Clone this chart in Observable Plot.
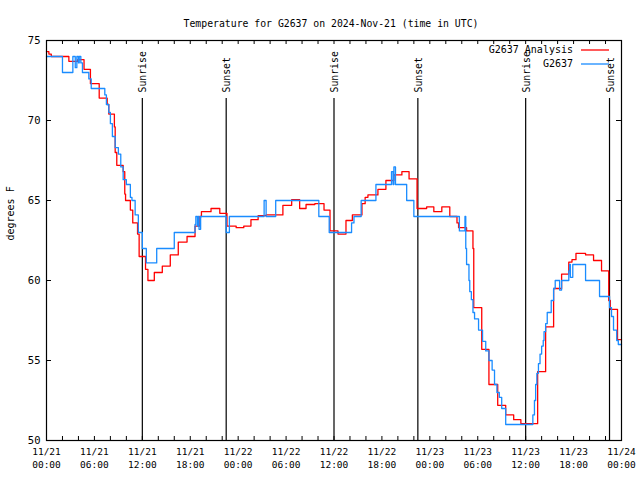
<!DOCTYPE html>
<html>
<head>
<meta charset="utf-8">
<script src="https://cdn.jsdelivr.net/npm/d3@7"></script>
<script src="https://cdn.jsdelivr.net/npm/@observablehq/plot@0.6"></script>
<style>
  html, body { margin: 0; padding: 0; background: white; }
</style>
</head>
<body>
<div id="chart"></div>
<script>
// ---- data (hours since 2024-11-21 00:00 UTC, temperature °F) ----
const analysisHours = [0, 0.3, 0.6, 2.8, 3.9, 4.7, 5.5, 6.6, 7.6, 7.8, 8.5, 8.6, 8.8, 9.6, 9.8, 9.9, 10.5, 10.8, 11.4, 11.6, 12.4, 12.7, 13.5, 14.5, 15.5, 16.5, 17.6, 18.6, 19.2, 19.4, 20.6, 21.7, 22.6, 23.75, 24.7, 25.6, 26.5, 27.5, 29.6, 30.7, 31.7, 32.5, 33.6, 34.75, 35.5, 36.5, 37.5, 38.3, 39.5, 39.9, 40.25, 41.5, 42.5, 43.5, 44.5, 45.4, 46.4, 47.6, 48.5, 49.5, 50.5, 51.4, 51.6, 52.6, 53.4, 53.5, 54.5, 55.4, 56.5, 57.5, 58.5, 59.4, 61.5, 62.5, 63.5, 64.5, 65.4, 65.8, 66.3, 67.5, 68.5, 69.5, 70.4, 70.6, 71.5, 72];
const analysisTemps = [74.3, 74.15, 74.0, 73.7, 73.8, 73.2, 72.3, 71.4, 71.0, 70.4, 69.6, 68.0, 67.2, 66.8, 65.4, 65.0, 64.4, 63.6, 62.9, 61.5, 60.7, 60.0, 60.5, 60.9, 61.6, 62.4, 62.75, 63.4, 64.0, 64.3, 64.5, 64.2, 63.4, 63.3, 63.4, 63.8, 64.05, 64.1, 64.7, 65.05, 64.5, 64.75, 64.8, 64.4, 63.1, 62.9, 63.75, 64.1, 64.8, 65.2, 65.35, 65.7, 66.25, 66.6, 66.8, 66.35, 64.5, 64.6, 64.3, 64.6, 64.0, 63.6, 63.3, 63.1, 62.0, 58.3, 55.7, 53.5, 52.2, 51.6, 51.3, 51.05, 54.3, 57.1, 59.5, 60.4, 61.15, 61.3, 61.7, 61.6, 61.25, 60.6, 58.75, 58.2, 56.3, 56.3];

const stationHours = [0, 2, 3.3, 3.6, 3.8, 4.0, 4.1, 4.3, 4.5, 5.3, 5.6, 7.3, 7.5, 7.8, 8.0, 8.25, 8.6, 9.0, 9.3, 9.6, 10.0, 10.5, 10.7, 11.1, 11.5, 12.0, 12.5, 13.8, 16.0, 18.6, 18.7, 18.9, 19.0, 19.1, 19.3, 22.5, 22.9, 27.25, 27.5, 28.7, 34.1, 35.4, 38.2, 38.5, 39.4, 41.25, 43.2, 43.4, 43.5, 43.7, 45.1, 46.0, 51.7, 52.3, 52.4, 52.5, 52.6, 52.9, 53.0, 53.2, 53.4, 53.6, 54.1, 54.6, 55.0, 55.4, 55.8, 56.1, 56.4, 56.7, 57.0, 57.5, 60.9, 61.1, 61.25, 61.4, 61.6, 61.8, 62.0, 62.2, 62.3, 62.5, 62.7, 63.2, 63.5, 63.7, 64.25, 64.5, 65.4, 65.5, 65.6, 65.9, 67.5, 69.25, 70.5, 70.75, 71.0, 71.4, 71.6, 72];
const stationTemps = [74.0, 73.0, 74.0, 73.3, 74.0, 73.6, 74.0, 73.6, 73.0, 72.6, 72.0, 71.6, 71.0, 70.5, 69.8, 69.0, 68.3, 67.9, 67.1, 66.3, 66.0, 65.2, 65.0, 64.1, 63.0, 62.0, 61.1, 62.0, 63.0, 63.5, 64.0, 63.4, 64.0, 63.2, 64.0, 63.0, 64.0, 65.0, 64.0, 65.0, 64.0, 63.0, 63.6, 64.0, 65.0, 66.0, 66.8, 66.0, 67.1, 66.0, 65.0, 64.0, 63.1, 63.1, 64.0, 62.0, 61.0, 60.0, 59.3, 58.8, 58.0, 57.6, 56.9, 56.2, 55.6, 55.0, 54.4, 53.5, 53.0, 52.7, 52.0, 51.0, 51.6, 52.5, 53.5, 54.2, 54.8, 55.4, 55.9, 56.25, 56.8, 57.3, 58.0, 58.75, 59.5, 60.0, 59.4, 60.0, 60.6, 61.0, 60.2, 61.0, 60.0, 59.0, 58.3, 57.75, 56.9, 56.25, 56.0, 56.0];

const eventHours = [12, 22.5, 36, 46.5, 60, 70.5];
const eventLabels = ["Sunrise", "Sunset", "Sunrise", "Sunset", "Sunrise", "Sunset"];

const xTickHours = [0, 6, 12, 18, 24, 30, 36, 42, 48, 54, 60, 66, 72];
const xTickDates = ["11/21", "11/21", "11/21", "11/21", "11/22", "11/22", "11/22", "11/22", "11/23", "11/23", "11/23", "11/23", "11/24"];
const xTickTimes = ["00:00", "06:00", "12:00", "18:00", "00:00", "06:00", "12:00", "18:00", "00:00", "06:00", "12:00", "18:00", "00:00"];
const yTicks = [50, 55, 60, 65, 70, 75];

const seriesNames = ["G2637 Analysis", "G2637"];
const seriesColors = ["#ff0000", "#1a8cff"];
const titleText = "Temperature for G2637 on 2024-Nov-21 (time in UTC)";
const yLabel = "degrees F";

// ---- helpers ----
const t0 = Date.UTC(2024, 10, 21, 0, 0, 0);
const toDate = h => new Date(t0 + h * 3600e3);
const analysis = analysisHours.map((h, i) => ({t: toDate(h), v: analysisTemps[i]}));
const station = stationHours.map((h, i) => ({t: toDate(h), v: stationTemps[i]}));
const events = eventHours.map((h, i) => ({t: toDate(h), label: eventLabels[i]}));
const xTicks = xTickHours.map((h, i) => ({t: toDate(h), d: xTickDates[i], tm: xTickTimes[i]}));
const minorTicks = d3.range(0, 73, 2).map(toDate);

const W = 640, H = 480;
const mL = 46, mR = 19, mT = 40, mB = 40;
const pw = W - mL - mR, ph = H - mT - mB;
const font = "'DejaVu Sans Mono', 'Liberation Mono', monospace";

const plot = Plot.plot({
  width: W, height: H,
  marginLeft: mL, marginRight: mR, marginTop: mT, marginBottom: mB,
  x: {type: "utc", domain: [toDate(0), toDate(72)], axis: null},
  y: {domain: [50, 75], axis: null},
  style: {fontFamily: font, fontSize: "10px", color: "black", background: "white"},
  marks: [
    // sunrise / sunset rules and labels
    Plot.ruleX(events, {x: "t", stroke: "black", strokeWidth: 1.2, insetTop: 58}),
    Plot.text(events, {x: "t", text: "label", frameAnchor: "top", dy: 52, dx: 1, rotate: -90, textAnchor: "start", lineAnchor: "middle", fill: "black", fontSize: 9.8}),
    // data lines
    Plot.line(analysis, {x: "t", y: "v", curve: "step-after", stroke: seriesColors[0], strokeWidth: 1.3}),
    Plot.line(station, {x: "t", y: "v", curve: "step-after", stroke: seriesColors[1], strokeWidth: 1.3}),
    // inward ticks
    Plot.ruleX(minorTicks, {stroke: "black", insetTop: ph - 4}),
    Plot.ruleX(minorTicks, {stroke: "black", insetBottom: ph - 4}),
    Plot.ruleY(yTicks, {stroke: "black", insetRight: pw - 5}),
    Plot.ruleY(yTicks, {stroke: "black", insetLeft: pw - 5}),
    Plot.frame({stroke: "black", strokeWidth: 1.2}),
    // tick labels
    Plot.text(yTicks, {y: d => d, text: d => String(d), frameAnchor: "left", dx: -6, textAnchor: "end", fontSize: 10.5}),
    Plot.text(xTicks, {x: "t", text: "d", frameAnchor: "bottom", dy: 14, fontSize: 9.5}),
    Plot.text(xTicks, {x: "t", text: "tm", frameAnchor: "bottom", dy: 27, fontSize: 9.5}),
    // title and y label
    Plot.text([titleText], {text: d => d, frameAnchor: "top", dy: -20, dx: -3, fontSize: 9.8}),
    Plot.text([yLabel], {text: d => d, frameAnchor: "left", dx: -36, rotate: -90, fontSize: 10})
  ]
});

// legend (top-right, inside the frame)
const svg = d3.select(plot);
const legendRows = seriesNames.map((n, i) => ({n, c: seriesColors[i], y: mT + 10 + i * 14}));
const g = svg.append("g").attr("font-family", font).attr("font-size", 10);
legendRows.forEach(r => {
  g.append("text").attr("x", W - mR - 48).attr("y", r.y).attr("dy", "0.32em")
    .attr("text-anchor", "end").attr("fill", "black").text(r.n);
  g.append("line").attr("x1", W - mR - 40).attr("x2", W - mR - 12)
    .attr("y1", r.y).attr("y2", r.y).attr("stroke", r.c).attr("stroke-width", 1.3);
});

document.getElementById("chart").appendChild(plot);
</script>
</body>
</html>
